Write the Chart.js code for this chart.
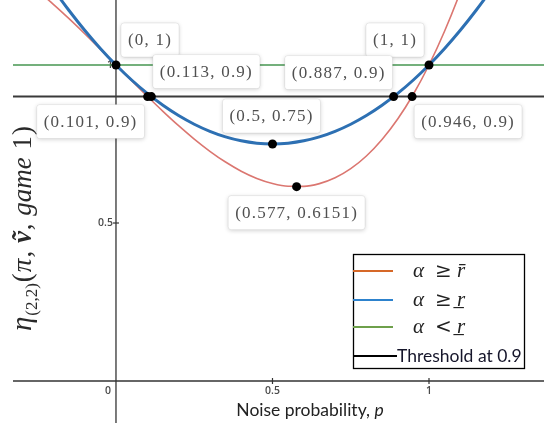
<!DOCTYPE html>
<html>
<head>
<meta charset="utf-8">
<script src="https://cdn.jsdelivr.net/npm/chart.js@4/dist/chart.umd.min.js"></script>
<style>
html,body{margin:0;padding:0;background:#fff;}
#wrap{width:544px;height:429px;}
</style>
</head>
<body>
<div id="wrap"><canvas id="c" width="544" height="429"></canvas></div>
<script>
// ---- data ----
const pVals = [-0.3,-0.25,-0.2,-0.15,-0.1,-0.05,0,0.05,0.1,0.15,0.2,0.25,0.3,0.35,0.4,0.45,0.5,0.55,0.6,0.65,0.7,0.75,0.8,0.85,0.9,0.95,1.0,1.05,1.1,1.15,1.2,1.25,1.3];
const redVals = [1.273,1.2344,1.192,1.1466,1.099,1.0499,1,0.9501,0.901,0.8534,0.808,0.7656,0.727,0.6929,0.664,0.6411,0.625,0.6164,0.616,0.6246,0.643,0.6719,0.712,0.7641,0.829,0.9074,1,1.1076,1.231,1.3709,1.528,1.7031,1.897];
const blueVals = [1.39,1.3125,1.24,1.1725,1.11,1.0525,1,0.9525,0.91,0.8725,0.84,0.8125,0.79,0.7725,0.76,0.7525,0.75,0.7525,0.76,0.7725,0.79,0.8125,0.84,0.8725,0.91,0.9525,1,1.0525,1.11,1.1725,1.24,1.3125,1.39];
const greenLevel = 1;
const thresholdLevel = 0.9;
const pointX = [0, 0.101, 0.113, 0.5, 0.577, 1, 0.887, 0.946];
const pointY = [1, 0.9, 0.9, 0.75, 0.6151, 1, 0.9, 0.9];
const pointLabels = ["(0, 1)","(0.101, 0.9)","(0.113, 0.9)","(0.5, 0.75)","(0.577, 0.6151)","(1, 1)","(0.887, 0.9)","(0.946, 0.9)"];
const xTicks = [0, 0.5, 1];
const xTickLabels = ["0","0.5","1"];
const yTicks = [0.5, 1];
const yTickLabels = ["0.5","1"];
const legendLabels = ["\u03B1 \u2265 r\u0304", "\u03B1 \u2265 r\u0332", "\u03B1 < r\u0332", "Threshold at 0.9"];
const xTitle = "Noise probability, ";
const xTitleVar = "p";

// ---- view / style ----
const xMin = -0.329, xMax = 1.3674, yMin = -0.1329, yMax = 1.2057;
const labelOffsets = [[34,-25],[-57,25],[55,-25],[-1,-28],[0,26],[-34,-25],[-55,-24],[56,25]];
const RED = 'rgb(219,118,112)', BLUE = '#2d70b3', GREEN = 'rgb(70,150,80)', BLACK = '#3a3a3a';
const legendColors = ['rgb(214,104,40)','rgb(45,130,205)','rgb(110,160,75)','#000'];

function rr(ctx,x,y,w,h,r){ctx.beginPath();ctx.moveTo(x+r,y);ctx.lineTo(x+w-r,y);ctx.quadraticCurveTo(x+w,y,x+w,y+r);ctx.lineTo(x+w,y+h-r);ctx.quadraticCurveTo(x+w,y+h,x+w-r,y+h);ctx.lineTo(x+r,y+h);ctx.quadraticCurveTo(x,y+h,x,y+h-r);ctx.lineTo(x,y+r);ctx.quadraticCurveTo(x,y,x+r,y);ctx.closePath();}

const axesPlugin = {
  id:'axes',
  beforeDatasetsDraw(chart){
    const ctx = chart.ctx, xs = chart.scales.x, ys = chart.scales.y, a = chart.chartArea;
    ctx.save();
    ctx.strokeStyle = '#333'; ctx.lineWidth = 1.3;
    const x0 = xs.getPixelForValue(0), y0 = ys.getPixelForValue(0);
    ctx.beginPath(); ctx.moveTo(a.left, y0); ctx.lineTo(a.right, y0); ctx.stroke();
    ctx.beginPath(); ctx.moveTo(x0, a.top); ctx.lineTo(x0, a.bottom); ctx.stroke();
    ctx.lineWidth = 1.2;
    xTicks.forEach(v=>{ if(v===0) return; const px = xs.getPixelForValue(v); ctx.beginPath(); ctx.moveTo(px,y0-3); ctx.lineTo(px,y0+3); ctx.stroke(); });
    yTicks.forEach(v=>{ const py = ys.getPixelForValue(v); ctx.beginPath(); ctx.moveTo(x0-3,py); ctx.lineTo(x0+3,py); ctx.stroke(); });
    ctx.fillStyle = '#4a4a4a'; ctx.font = '600 10.5px "Open Sans", sans-serif';
    ctx.textBaseline = 'middle';
    xTicks.forEach((v,i)=>{ const px = xs.getPixelForValue(v);
      if(v===0){ ctx.textAlign='right'; ctx.fillText(xTickLabels[i], px-5, y0+10); }
      else { ctx.textAlign='center'; ctx.fillText(xTickLabels[i], px, y0+10); } });
    ctx.textAlign = 'right';
    yTicks.forEach((v,i)=>{ const py = ys.getPixelForValue(v); ctx.fillText(yTickLabels[i], x0-3, py); });
    ctx.restore();
  },
  afterDatasetsDraw(chart){
    const ctx = chart.ctx, xs = chart.scales.x, ys = chart.scales.y;
    ctx.save();
    ctx.font = '17px "Liberation Serif", serif';
    ctx.letterSpacing = '1.2px';
    ctx.textAlign = 'center'; ctx.textBaseline = 'middle';
    pointLabels.forEach((t,i)=>{
      const px = xs.getPixelForValue(pointX[i]) + labelOffsets[i][0];
      const py = ys.getPixelForValue(pointY[i]) + labelOffsets[i][1];
      const w = ctx.measureText(t).width + 14, h = 34;
      ctx.save();
      ctx.shadowColor = 'rgba(0,0,0,0.18)'; ctx.shadowBlur = 4; ctx.shadowOffsetY = 1;
      ctx.fillStyle = '#fff'; rr(ctx, px-w/2, py-h/2, w, h, 3); ctx.fill();
      ctx.restore();
      ctx.strokeStyle = 'rgba(0,0,0,0.07)'; ctx.lineWidth = 1; rr(ctx, px-w/2, py-h/2, w, h, 3); ctx.stroke();
      ctx.fillStyle = '#505050';
      ctx.fillText(t, px, py+1);
    });
    ctx.restore();
  },
  afterDraw(chart){
    const ctx = chart.ctx;
    ctx.save();
    const L = 353, T = 254, R = 525, B = 369;
    ctx.fillStyle = '#fff'; ctx.fillRect(L,T,R-L,B-T);
    ctx.strokeStyle = '#000'; ctx.lineWidth = 1.3; ctx.strokeRect(L+0.5,T+0.5,R-L-1,B-T-1);
    const rows = [271, 300, 327, 356];
    rows.forEach((y,i)=>{
      ctx.strokeStyle = legendColors[i]; ctx.lineWidth = 2;
      ctx.beginPath(); ctx.moveTo(L, y); ctx.lineTo(i===3?397:393, y); ctx.stroke();
      ctx.fillStyle = '#222'; ctx.textBaseline = 'middle'; ctx.textAlign = 'left';
      if(i<3){
        const parts = [...legendLabels[i]].filter(c=>c!==' ');
        ctx.font = 'italic 21px "Liberation Serif", serif';
        ctx.fillText(parts[0], 413, y);
        ctx.font = '20px "DejaVu Serif", serif';
        ctx.fillText(parts[1], 435, y+1);
        ctx.font = 'italic 21px "Liberation Serif", serif';
        ctx.fillText(parts[2] + parts[3], 457, y);
      } else {
        ctx.fillStyle = '#15152a';
        ctx.font = '17.5px Lato, sans-serif';
        ctx.fillText(legendLabels[i], 397, y);
      }
    });
    ctx.fillStyle = '#222'; ctx.textBaseline = 'alphabetic'; ctx.textAlign = 'left';
    ctx.font = '17.5px Lato, sans-serif';
    const w1 = ctx.measureText(xTitle).width;
    ctx.font = 'italic 17.5px Lato, sans-serif';
    const w2 = ctx.measureText(xTitleVar).width;
    let sx = 310 - (w1+w2)/2;
    ctx.font = '17.5px Lato, sans-serif'; ctx.fillText(xTitle, sx, 416);
    ctx.font = 'italic 17.5px Lato, sans-serif'; ctx.fillText(xTitleVar, sx+w1, 416);
    ctx.translate(31, 228);
    ctx.rotate(-Math.PI/2);
    const segs = [
      ['\u03B7', 'italic 29px "Liberation Serif", serif', 0],
      ['(2,2)', '17px "Liberation Serif", serif', 6],
      ['(', '27px "Liberation Serif", serif', 0],
      ['\u03C0', 'italic 27px "Liberation Serif", serif', 0],
      [', ', '27px "Liberation Serif", serif', 0],
      ['v\u0303', 'italic bold 27px "Liberation Serif", serif', 0],
      [', ', '27px "Liberation Serif", serif', 0],
      ['game', 'italic 27px "Liberation Serif", serif', 0],
      [' 1', '27px "Liberation Serif", serif', 0],
      [')', '27px "Liberation Serif", serif', 0]
    ];
    let tot = 0;
    segs.forEach(s=>{ ctx.font = s[1]; tot += ctx.measureText(s[0]).width + 1; });
    let cx = -tot/2;
    ctx.fillStyle = '#2a2a2a';
    segs.forEach(s=>{ ctx.font = s[1]; ctx.fillText(s[0], cx, s[2]); cx += ctx.measureText(s[0]).width + 1; });
    ctx.restore();
  }
};

const mk = (xa, ya) => xa.map((x,i)=>({x, y: ya[i]}));

new Chart(document.getElementById('c'), {
  type: 'scatter',
  data: {
    datasets: [
      { label:'points', data: mk(pointX, pointY), pointRadius: 4.5, pointBackgroundColor:'#000', pointBorderWidth:0, showLine:false, order:0 },
      { label:'blue', data: mk(pVals, blueVals), showLine:true, borderColor: BLUE, borderWidth: 3, pointRadius:0, cubicInterpolationMode:'monotone', order:1 },
      { label:'red', data: mk(pVals, redVals), showLine:true, borderColor: RED, borderWidth: 1.6, pointRadius:0, cubicInterpolationMode:'monotone', order:2 },
      { label:'threshold', data: [{x:xMin,y:thresholdLevel},{x:xMax,y:thresholdLevel}], showLine:true, borderColor: BLACK, borderWidth: 2, pointRadius:0, order:3 },
      { label:'green', data: [{x:xMin,y:greenLevel},{x:xMax,y:greenLevel}], showLine:true, borderColor: GREEN, borderWidth: 1.4, pointRadius:0, order:4 }
    ]
  },
  options: {
    responsive:false, animation:false, devicePixelRatio:1,
    layout:{ autoPadding:false, padding:{ left:13, right:0, top:0, bottom:6 } },
    plugins:{ legend:{display:false}, tooltip:{enabled:false} },
    scales:{
      x:{ type:'linear', min:xMin, max:xMax, display:false },
      y:{ type:'linear', min:yMin, max:yMax, display:false }
    }
  },
  plugins:[axesPlugin]
});
</script>
</body>
</html>
